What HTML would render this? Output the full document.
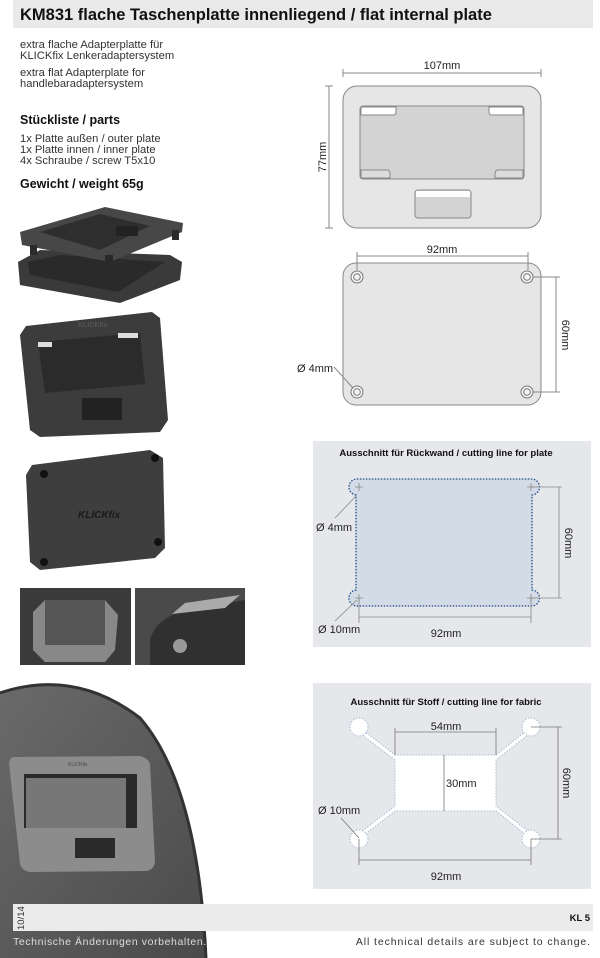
<!DOCTYPE html>
<html><head><meta charset="utf-8"><style>
html,body{margin:0;padding:0;background:#fff;}
body{width:600px;height:958px;overflow:hidden;position:relative;font-family:"Liberation Sans",sans-serif;}
svg{position:absolute;left:0;top:0;}
</style></head><body>
<svg width="600" height="958" viewBox="0 0 600 958" font-family="Liberation Sans, sans-serif">
<defs>
<linearGradient id="bag" x1="0" y1="0" x2="1" y2="1"><stop offset="0" stop-color="#6a6a6a"/><stop offset="1" stop-color="#4a4a4a"/></linearGradient>
</defs>
<!-- header -->
<rect x="13" y="0" width="580" height="28" fill="#e9e9e9"/>
<text x="20" y="20" font-size="16.5" font-weight="bold" fill="#111">KM831 flache Taschenplatte innenliegend / flat internal plate</text>
<g font-size="11.2" fill="#333">
<text x="20" y="48">extra flache Adapterplatte für</text>
<text x="20" y="59">KLICKfix Lenkeradaptersystem</text>
<text x="20" y="76">extra flat Adapterplate for</text>
<text x="20" y="87">handlebaradaptersystem</text>
<text x="20" y="142">1x Platte außen / outer plate</text>
<text x="20" y="153">1x Platte innen / inner plate</text>
<text x="20" y="164">4x Schraube / screw T5x10</text>
</g>
<text x="20" y="124" font-size="12.5" font-weight="bold" fill="#111">Stückliste / parts</text>
<text x="20" y="188" font-size="12.5" font-weight="bold" fill="#111">Gewicht / weight 65g</text>

<!-- photo 1 exploded -->
<path d="M18,262 L40,250 L170,255 L182,262 L180,280 L120,303 L20,285 Z" fill="#3a3a3a"/>
<path d="M28,262 L60,255 L165,262 L118,292 L30,275 Z" fill="#2a2a2a"/>
<path d="M20,232 L105,207 L183,223 L182,232 L110,262 L22,245 Z" fill="#474747"/>
<path d="M40,232 L100,214 L150,226 L100,250 Z" fill="#2e2e2e"/>
<rect x="116" y="226" width="22" height="10" fill="#222"/>
<rect x="30" y="245" width="7" height="10" fill="#2a2a2a"/><rect x="105" y="255" width="8" height="12" fill="#2a2a2a"/><rect x="172" y="230" width="7" height="10" fill="#2a2a2a"/>
<!-- photo 2 frame -->
<path d="M26,326 L152,312 L160,318 L168,420 L160,432 L40,437 L30,430 L20,335 Z" fill="#3c3c3c"/>
<path d="M38,342 L140,333 L145,384 L45,393 Z" fill="#2b2b2b"/>
<rect x="38" y="342" width="14" height="5" fill="#ddd"/><rect x="118" y="333" width="20" height="5" fill="#ddd"/>
<rect x="82" y="398" width="40" height="22" fill="#222"/>
<text x="78" y="327" font-size="7" fill="#555" font-weight="bold">KLICKfix</text>
<!-- photo 3 back -->
<path d="M32,465 L150,450 L163,458 L165,548 L155,558 L40,570 L30,562 L26,475 Z" fill="#3e3e3e"/>
<circle cx="44" cy="474" r="4" fill="#111"/><circle cx="155" cy="458" r="4" fill="#111"/>
<circle cx="158" cy="542" r="4" fill="#111"/><circle cx="44" cy="562" r="4" fill="#111"/>
<text x="78" y="518" font-size="10" font-weight="bold" font-style="italic" fill="#1a1a1a">KLICKfix</text>
<!-- photo 4 -->
<rect x="20" y="588" width="111" height="77" fill="#3a3a3a"/>
<path d="M45,600 L105,600 L118,615 L115,650 L105,662 L45,662 L33,650 L33,612 Z" fill="#888"/>
<rect x="45" y="600" width="60" height="45" fill="#555"/>
<rect x="135" y="588" width="110" height="77" fill="#4a4a4a"/>
<path d="M150,665 L150,640 Q155,620 180,612 L245,600 L245,665 Z" fill="#303030"/>
<path d="M172,614 L185,603 L240,595 L225,608 Z" fill="#aaa"/>
<circle cx="180" cy="646" r="7" fill="#999"/>
<!-- photo 5 bag -->
<path d="M0,693 Q75,668 140,718 Q198,785 206,958 L0,958 Z" fill="url(#bag)"/>
<path d="M0,693 Q75,668 140,718 Q198,785 206,958" fill="none" stroke="#333" stroke-width="3"/>
<path d="M14,757 L140,756 Q148,758 150,764 L155,862 Q154,870 146,871 L30,872 Q22,871 20,864 L9,763 Q10,757 14,757 Z" fill="#8c8c8c"/>
<rect x="24" y="774" width="113" height="54" fill="#2a2a2a"/>
<rect x="26" y="778" width="100" height="50" fill="#777"/>
<rect x="75" y="838" width="40" height="20" fill="#2a2a2a"/>
<text x="68" y="766" font-size="5" fill="#444">KLICKfix</text>

<!-- top plate -->
<g stroke="#888" stroke-width="1">
<line x1="343" y1="73" x2="541" y2="73"/><line x1="343" y1="69" x2="343" y2="77"/><line x1="541" y1="69" x2="541" y2="77"/>
<line x1="329" y1="86" x2="329" y2="228"/><line x1="325" y1="86" x2="333" y2="86"/><line x1="325" y1="228" x2="333" y2="228"/>
</g>
<text x="442" y="69" font-size="11" fill="#222" text-anchor="middle">107mm</text>
<text x="0" y="0" font-size="11" fill="#222" text-anchor="middle" transform="translate(326,157) rotate(-90)">77mm</text>
<rect x="343" y="86" width="198" height="142" rx="14" fill="#e6e6e6" stroke="#888"/>
<rect x="360" y="106" width="164" height="73" rx="3" fill="#d3d3d3" stroke="#888"/>
<path d="M361,107 L396,107 L396,112 Q396,115 393,115 L361,115 Z" fill="#fff" stroke="#888"/>
<path d="M523,107 L489,107 L489,112 Q489,115 492,115 L523,115 Z" fill="#fff" stroke="#888"/>
<path d="M361,170 L388,170 Q390,171 390,174 L390,178 L361,178 Z" fill="#dcdcdc" stroke="#888"/>
<path d="M523,170 L497,170 Q495,171 495,174 L495,178 L523,178 Z" fill="#dcdcdc" stroke="#888"/>
<rect x="415" y="190" width="56" height="28" rx="3" fill="#d3d3d3" stroke="#888"/>
<rect x="416" y="191" width="54" height="6" fill="#fff"/>

<!-- second plate -->
<rect x="343" y="263" width="198" height="142" rx="13" fill="#e6e6e6" stroke="#888"/>
<g stroke="#888" stroke-width="1" fill="none">
<line x1="357" y1="256" x2="528" y2="256"/><line x1="357" y1="252" x2="357" y2="270"/><line x1="528" y1="252" x2="528" y2="270"/>
<line x1="527" y1="277" x2="560" y2="277"/><line x1="527" y1="392" x2="560" y2="392"/><line x1="556" y1="277" x2="556" y2="392"/>
<line x1="334" y1="367" x2="353" y2="388"/>
</g>
<g fill="#f4f4f4" stroke="#777">
<circle cx="357" cy="277" r="6"/><circle cx="527" cy="277" r="6"/><circle cx="357" cy="392" r="6"/><circle cx="527" cy="392" r="6"/>
<circle cx="357" cy="277" r="3.3"/><circle cx="527" cy="277" r="3.3"/><circle cx="357" cy="392" r="3.3"/><circle cx="527" cy="392" r="3.3"/>
</g>
<text x="442" y="253" font-size="11" fill="#222" text-anchor="middle">92mm</text>
<text x="0" y="0" font-size="11" fill="#222" text-anchor="middle" transform="translate(562,335) rotate(90)">60mm</text>
<text x="297" y="372" font-size="11" fill="#222">Ø 4mm</text>

<!-- panel 1 -->
<rect x="313" y="441" width="278" height="206" fill="#e6e7ea"/>
<text x="446" y="456" font-size="9.5" font-weight="bold" fill="#111" text-anchor="middle">Ausschnitt für Rückwand / cutting line for plate</text>
<path d="M356,495 A8,8 0 0 1 358,479 L531,479 A8,8 0 0 1 532,495 L532,590 A8,8 0 0 1 531,606 L358,606 A8,8 0 0 1 356,590 Z" fill="#d3dce6" stroke="#1f4e8a" stroke-width="1.3" stroke-dasharray="1.5,1.5"/>
<g stroke="#888" stroke-width="0.8" fill="none">
<path d="M355,487 h8 M359,483 v8 M527,487 h8 M531,483 v8 M355,598 h8 M359,594 v8 M527,598 h8 M531,594 v8"/>
<line x1="531" y1="487" x2="562" y2="487"/><line x1="531" y1="598" x2="562" y2="598"/><line x1="559" y1="487" x2="559" y2="598"/>
<line x1="359" y1="598" x2="359" y2="623"/><line x1="531" y1="598" x2="531" y2="623"/><line x1="359" y1="617" x2="531" y2="617"/>
<line x1="335" y1="518" x2="356" y2="496"/><line x1="335" y1="621" x2="357" y2="600"/>
</g>
<text x="316" y="531" font-size="11" fill="#222">Ø 4mm</text>
<text x="318" y="633" font-size="11" fill="#222">Ø 10mm</text>
<text x="446" y="637" font-size="11" fill="#222" text-anchor="middle">92mm</text>
<text x="0" y="0" font-size="11" fill="#222" text-anchor="middle" transform="translate(565,543) rotate(90)">60mm</text>

<!-- panel 2 -->
<rect x="313" y="683" width="278" height="206" fill="#e6e7ea"/>
<text x="446" y="705" font-size="9.5" font-weight="bold" fill="#111" text-anchor="middle">Ausschnitt für Stoff / cutting line for fabric</text>
<g fill="#fff" stroke="#a8bcd4" stroke-width="1" stroke-dasharray="1.5,1.5">
<path d="M359,727 L395,755 L496,755 L531,727 L533,731 L496,760 L496,806 L533,835 L531,839 L496,811 L395,811 L359,839 L357,835 L395,806 L395,760 L357,731 Z"/>
<circle cx="359" cy="727" r="9"/><circle cx="531" cy="727" r="9"/><circle cx="359" cy="839" r="9"/><circle cx="531" cy="839" r="9"/>
</g>
<rect x="396" y="756" width="99" height="54" fill="#fff"/>
<g stroke="#777" stroke-width="0.8" fill="none">
<line x1="395" y1="732" x2="496" y2="732"/><line x1="395" y1="728" x2="395" y2="755"/><line x1="496" y1="728" x2="496" y2="755"/>
<line x1="444" y1="755" x2="444" y2="811"/>
<line x1="531" y1="727" x2="562" y2="727"/><line x1="531" y1="839" x2="562" y2="839"/><line x1="558" y1="727" x2="558" y2="839"/>
<line x1="359" y1="839" x2="359" y2="865"/><line x1="531" y1="839" x2="531" y2="865"/><line x1="359" y1="860" x2="531" y2="860"/>
<line x1="341" y1="818" x2="359" y2="838"/>
</g>
<text x="446" y="730" font-size="11" fill="#222" text-anchor="middle">54mm</text>
<text x="446" y="787" font-size="11" fill="#222">30mm</text>
<text x="318" y="814" font-size="11" fill="#222">Ø 10mm</text>
<text x="446" y="880" font-size="11" fill="#222" text-anchor="middle">92mm</text>
<text x="0" y="0" font-size="11" fill="#222" text-anchor="middle" transform="translate(563,783) rotate(90)">60mm</text>

<!-- footer -->
<rect x="13" y="904" width="580" height="27" fill="#ebebeb"/>
<text x="0" y="0" font-size="9.5" fill="#333" transform="translate(24,930) rotate(-90)">10/14</text>
<text x="590" y="921" font-size="9.5" font-weight="bold" fill="#111" text-anchor="end">KL 5</text>
<text x="13" y="945" font-size="10.5" fill="#ddd" letter-spacing="0.6">Technische Änderungen vorbehalten.</text>
<text x="591" y="945" font-size="10.5" fill="#333" text-anchor="end" letter-spacing="0.9">All technical details are subject to change.</text>
</svg>
</body></html>
